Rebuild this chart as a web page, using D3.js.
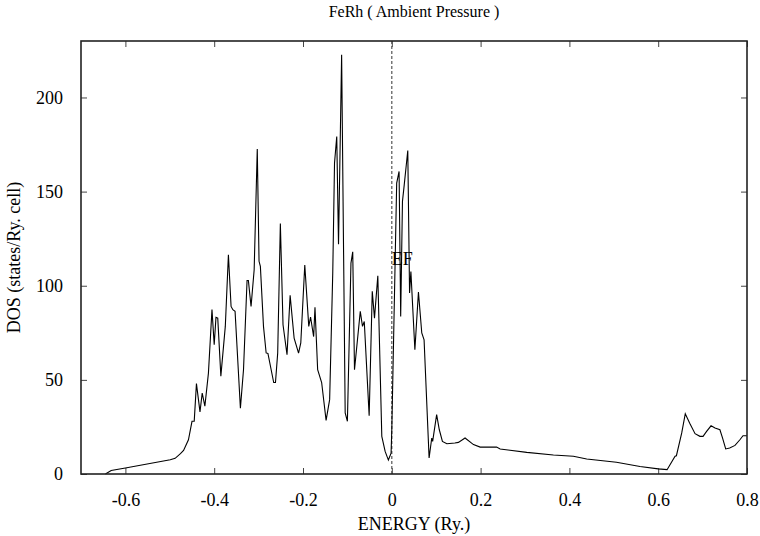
<!DOCTYPE html>
<html>
<head>
<meta charset="utf-8">
<script src="https://cdn.jsdelivr.net/npm/d3@7"></script>
<style>
  body { margin: 0; background: #fff; }
</style>
</head>
<body>
<div id="my_dataviz"></div>
<script>
// values
const energy = [-0.645, -0.632, -0.600, -0.499, -0.488, -0.476, -0.469, -0.458, -0.450, -0.445,
	-0.440, -0.432, -0.427, -0.421, -0.413, -0.405, -0.400, -0.396, -0.392, -0.385,
	-0.375, -0.368, -0.362, -0.358, -0.353, -0.341, -0.334, -0.326, -0.323, -0.317,
	-0.310, -0.303, -0.299, -0.296, -0.289, -0.283, -0.279, -0.266, -0.262, -0.257,
	-0.251, -0.245, -0.236, -0.229, -0.220, -0.210, -0.205, -0.196, -0.187, -0.183,
	-0.176, -0.173, -0.167, -0.158, -0.148, -0.140, -0.133, -0.129, -0.124, -0.120,
	-0.113, -0.105, -0.100, -0.092, -0.088, -0.084, -0.071, -0.066, -0.062, -0.051,
	-0.044, -0.039, -0.0315, -0.0225, -0.015, -0.0077, -0.0016, 0.000, 0.011, 0.0164,
	0.020, 0.024, 0.028, 0.036, 0.040, 0.043, 0.052, 0.060, 0.0675, 0.0727,
	0.084, 0.090, 0.092, 0.101, 0.107, 0.114, 0.124, 0.142, 0.150, 0.165,
	0.184, 0.199, 0.236, 0.244, 0.304, 0.364, 0.409, 0.439, 0.506, 0.559,
	0.600, 0.620, 0.638, 0.641, 0.653, 0.661, 0.671, 0.683, 0.694, 0.701,
	0.709, 0.719, 0.728, 0.739, 0.745, 0.752, 0.761, 0.773, 0.784, 0.791, 0.800];
const dos = [0, 1.9, 3.2, 7.6, 8.3, 10.8, 12.5, 18.2, 28, 28,
	48, 33, 43, 36, 53.6, 87.3, 68.7, 83.2, 82.8, 52,
	78.4, 116.5, 89, 87.3, 86.4, 35, 55.4, 102.8, 102.8, 89,
	108.5, 172.6, 113, 110.3, 78.4, 64.3, 64, 48.6, 48.6, 64.2,
	133, 79.3, 63.4, 94.9, 72.2, 64.2, 69.6, 111, 78.4, 83.4,
	73, 88.5, 55.4, 48.6, 28.5, 39.5, 106.7, 165.2, 179.3, 122,
	222.7, 32.4, 28, 112, 118, 55.4, 86.4, 78.4, 81, 31,
	97, 82.8, 105.3, 20, 12, 7.4, 11.1, 23.5, 154.5, 160.7,
	83.7, 144.8, 153.6, 171.8, 96.1, 107.6, 66, 96.7, 74.9, 71.3,
	8.5, 19.1, 17.3, 31.5, 23.5, 17.3, 16.1, 16.5, 16.8, 19.1,
	15.6, 14.3, 14.3, 13.3, 11.5, 10.1, 9.4, 8, 6.2, 4,
	2.7, 2.3, 9.4, 9.7, 21.8, 32, 27, 21.4, 20, 20,
	22.6, 25.6, 24.4, 23.5, 19.1, 13.3, 13.8, 15.2, 18.2, 20.3, 20.3];

const xTicks = [-0.6, -0.4, -0.2, 0, 0.2, 0.4, 0.6, 0.8];
const xTickLabels = ["-0.6", "-0.4", "-0.2", "0", "0.2", "0.4", "0.6", "0.8"];
const yTicks = [0, 50, 100, 150, 200];
const yTickLabels = ["0", "50", "100", "150", "200"];

const font = "Liberation Serif, Times New Roman, serif";

// set the dimensions and margins of the graph
const margin = { top: 41, right: 13, bottom: 62, left: 81 },
	width = 760 - margin.left - margin.right,
	height = 536 - margin.top - margin.bottom;

const svg = d3.select("#my_dataviz")
	.append("svg")
	.attr("width", 760)
	.attr("height", 536)
	.append("g")
	.attr("transform", `translate(${margin.left},${margin.top})`);

const x = d3.scaleLinear().domain([-0.7, 0.8]).range([0, width]);
const y = d3.scaleLinear().domain([0, 230]).range([height, 0]);

// inward ticks, mirrored on top and right
const tickLen = 6;
svg.append("g")
	.attr("transform", `translate(0, ${height})`)
	.call(d3.axisBottom(x).tickValues(xTicks).tickSize(-tickLen).tickPadding(tickLen + 13)
		.tickFormat((d, i) => xTickLabels[i]))
	.call(g => g.select(".domain").remove());
svg.append("g")
	.call(d3.axisTop(x).tickValues(xTicks).tickSize(-tickLen).tickFormat(""))
	.call(g => g.select(".domain").remove());
svg.append("g")
	.call(d3.axisLeft(y).tickValues(yTicks).tickSize(-tickLen).tickPadding(tickLen + 12)
		.tickFormat((d, i) => yTickLabels[i]))
	.call(g => g.select(".domain").remove());
svg.append("g")
	.attr("transform", `translate(${width}, 0)`)
	.call(d3.axisRight(y).tickValues(yTicks).tickSize(-tickLen).tickFormat(""))
	.call(g => g.select(".domain").remove());

svg.selectAll(".tick line").attr("stroke", "#444");
svg.selectAll(".tick text").attr("font-size", 18).attr("font-family", font);

// the Fermi level
svg.append("line")
	.attr("x1", x(0)).attr("x2", x(0))
	.attr("y1", 0).attr("y2", height)
	.attr("stroke", "#555")
	.attr("stroke-dasharray", "3,2")
	.style("stroke-width", 1.2);
svg.append("text")
	.attr("x", x(0))
	.attr("y", y(111))
	.attr("font-family", font)
	.attr("font-size", 18)
	.text("EF");

// the DOS curve
const line = d3.line()
	.x((d, i) => x(energy[i]))
	.y(d => y(d));
svg.append("path")
	.datum(dos)
	.attr("d", line)
	.attr("stroke", "#000")
	.style("stroke-width", 1.1)
	.style("fill", "none");

// frame
svg.append("rect")
	.attr("width", width)
	.attr("height", height)
	.attr("fill", "none")
	.attr("stroke", "#222")
	.style("stroke-width", 1.6);

// labels
svg.append("text")
	.attr("x", width / 2)
	.attr("y", -24)
	.attr("text-anchor", "middle")
	.attr("font-family", font)
	.attr("font-size", 16)
	.text("FeRh ( Ambient Pressure )");
svg.append("text")
	.attr("x", width / 2)
	.attr("y", height + 56)
	.attr("text-anchor", "middle")
	.attr("font-family", font)
	.attr("font-size", 18)
	.text("ENERGY (Ry.)");
svg.append("text")
	.attr("transform", `translate(${20 - margin.left}, ${height / 2}) rotate(-90)`)
	.attr("text-anchor", "middle")
	.attr("font-family", font)
	.attr("font-size", 18)
	.text("DOS (states/Ry. cell)");
</script>
</body>
</html>
